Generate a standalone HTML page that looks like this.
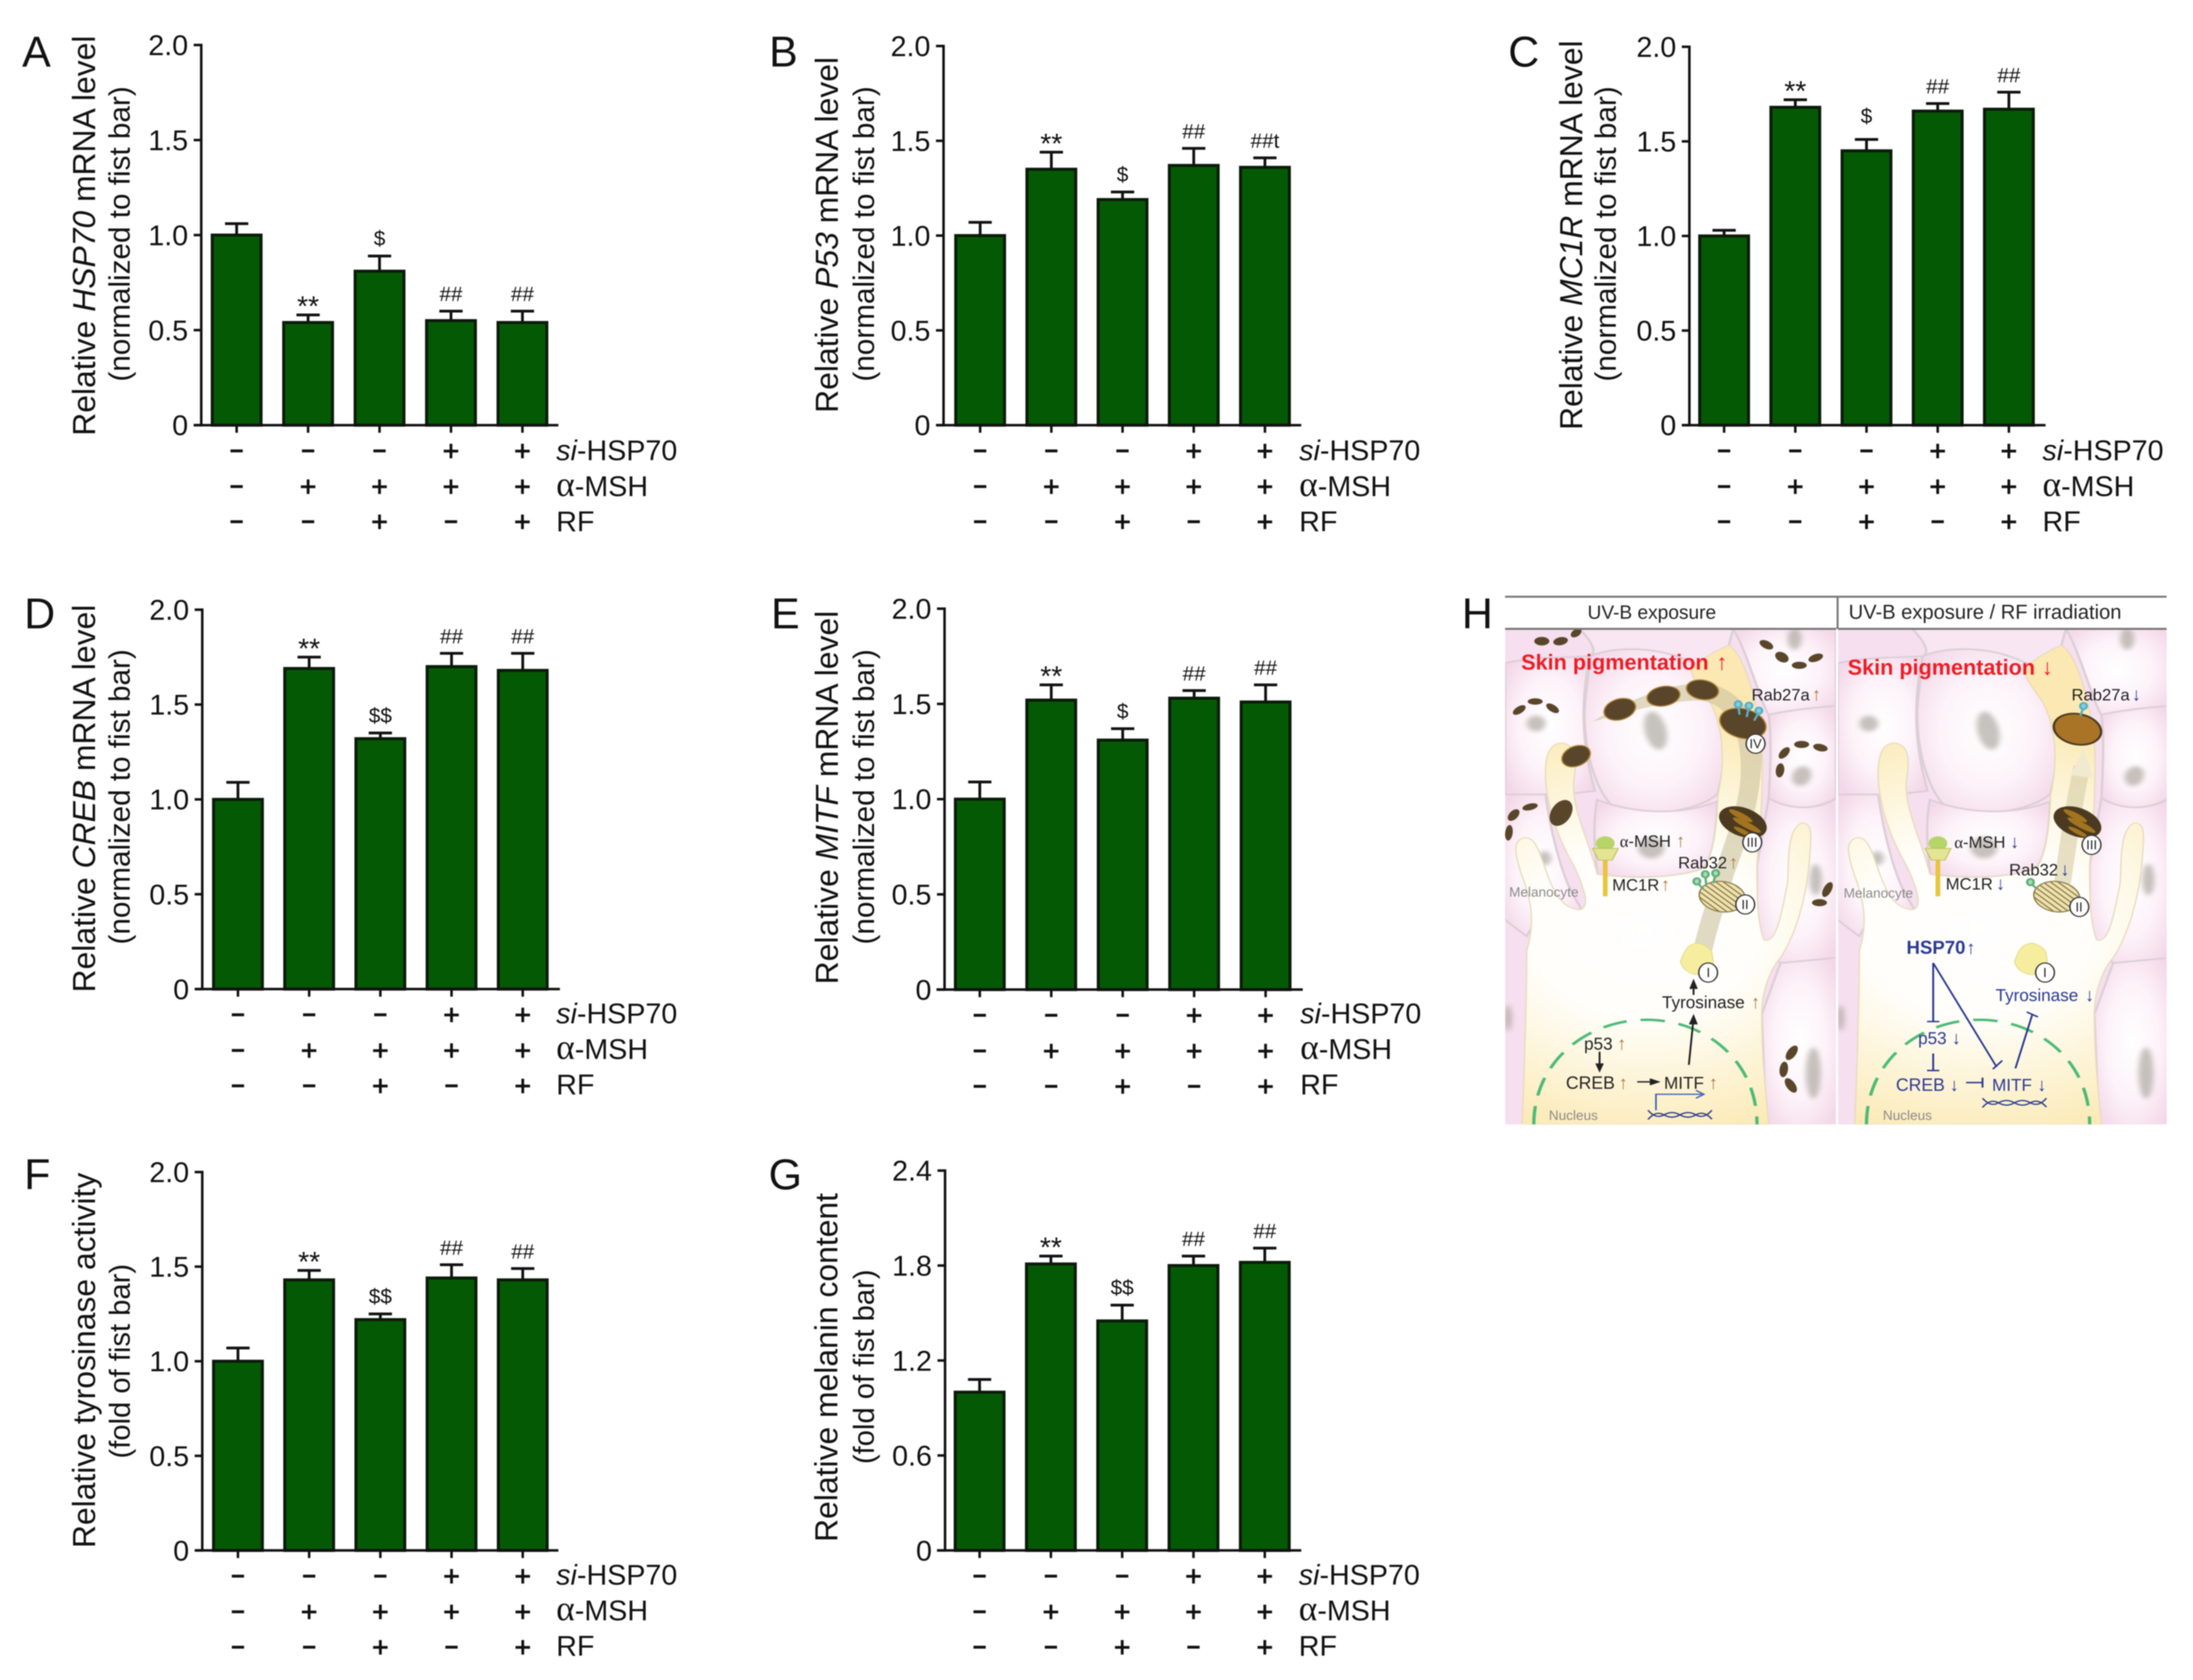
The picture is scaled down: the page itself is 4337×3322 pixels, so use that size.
<!DOCTYPE html>
<html lang="en">
<head>
<meta charset="utf-8">
<title>HSP70 knockdown and RF irradiation figure</title>
<style>
html,body{margin:0;padding:0;background:#fff;}
body{width:4337px;height:3322px;overflow:hidden;}
#figure{display:block;filter:blur(1px);}
text{font-family:"Liberation Sans",Arial,sans-serif;fill:#111;}
.letter{font-size:85px;}
.t1{font-size:63px;text-anchor:middle;}
.t2{font-size:58.7px;text-anchor:middle;}
.t3{font-size:57.7px;text-anchor:middle;}
.row{font-size:56.7px;}
.alpha{font-family:"Liberation Serif",serif;}
.row .alpha{font-size:70px;}
.hd{font-size:38px;fill:#222;}
.lab{font-size:33px;fill:#222;}
.blue{font-size:34px;fill:#2b3a96;}
.gray{font-size:27px;fill:#8b8b8b;}
.red{font-size:43px;font-weight:bold;fill:#ee1c25;}
.num{font-size:26px;text-anchor:middle;fill:#222;}
.ar{font-size:36px;text-anchor:middle;fill:#a9783f;}
.arb{font-size:36px;text-anchor:middle;fill:#2b3a96;}
.arr{font-size:44px;text-anchor:middle;fill:#ee1c25;}
</style>
</head>
<body>
<svg id="figure" xmlns="http://www.w3.org/2000/svg" width="4337" height="3322" viewBox="0 0 4337 3322">
<defs>
  <radialGradient id="cellGrad" cx="50%" cy="50%" r="62%">
    <stop offset="0" stop-color="#ffffff"/><stop offset=".55" stop-color="#fdf3f9"/><stop offset="1" stop-color="#f4d8e9"/>
  </radialGradient>
  <radialGradient id="melGrad" gradientUnits="userSpaceOnUse" cx="400" cy="980" r="620">
    <stop offset="0" stop-color="#ffffff"/><stop offset=".4" stop-color="#fffefa"/><stop offset=".8" stop-color="#fdf1cb"/><stop offset="1" stop-color="#fce8b2"/>
  </radialGradient>
  <filter id="soft" x="-40%" y="-40%" width="180%" height="180%"><feGaussianBlur stdDeviation="6"/></filter>
  <pattern id="stripes" patternUnits="userSpaceOnUse" width="12" height="11" patternTransform="rotate(22)">
    <rect width="12" height="11" fill="#eee2b0"/><rect y="0" width="12" height="3" fill="#8a7a44"/>
  </pattern>
  <clipPath id="clipPanel"><rect x="104" y="135" width="704" height="1395"/></clipPath>
  <clipPath id="clipAll"><rect x="104" y="135" width="1408" height="1395"/></clipPath>

  <g id="tissue" clip-path="url(#clipPanel)">
    <rect x="104" y="135" width="704" height="1395" fill="#f6dfee"/>
    <g fill="url(#cellGrad)" stroke="#dccfd6" stroke-width="5">
      <path d="M285,210 C350,175 480,180 560,280 C575,380 575,520 555,600 C510,650 400,665 340,640 C295,600 265,450 275,330 Z"/>
      <path d="M104,230 C170,210 250,215 285,210 C265,330 265,450 295,590 C230,600 160,610 104,600 Z"/>
      <path d="M590,135 C620,200 650,350 665,375 C720,360 770,355 808,350 L808,125 L590,125 Z"/>
      <path d="M665,375 C720,360 770,355 808,350 L808,610 C760,650 700,640 665,610 C670,500 670,430 665,375 Z"/>
      <path d="M100,600 L190,600 C200,700 220,800 240,860 C260,920 280,925 250,940 C200,950 170,940 150,1000 L100,950 Z"/>
      <path d="M300,615 C400,665 500,650 555,620 C555,700 545,780 525,810 C470,835 380,840 300,825 C295,760 290,680 300,615 Z"/>
      <path d="M665,610 C700,640 760,650 812,610 L812,1060 C770,1070 720,1070 690,1075 L640,1010 L640,800 Z"/>
      <path d="M690,1075 L812,1060 L812,1535 L660,1535 L650,1220 Z"/>
      <path d="M260,130 C290,170 300,200 285,210 C350,175 480,180 560,280 L590,130 Z" fill="#f8e6f2"/>
    </g>
    <g fill="#9d978e" opacity=".58" filter="url(#soft)">
      <ellipse cx="170" cy="400" rx="20" ry="22"/>
      <ellipse cx="424" cy="420" rx="23" ry="54" transform="rotate(-10 424 420)"/>
      <ellipse cx="415" cy="750" rx="28" ry="30"/>
      <ellipse cx="735" cy="548" rx="20" ry="28" transform="rotate(15 735 548)"/>
      <ellipse cx="188" cy="780" rx="14" ry="20"/>
      <ellipse cx="765" cy="840" rx="13" ry="44"/>
      <ellipse cx="720" cy="162" rx="15" ry="30"/>
      <ellipse cx="760" cy="1385" rx="16" ry="72"/>
      <ellipse cx="110" cy="1230" rx="8" ry="36"/>
    </g>
    <path d="M140,1530 C145,1380 150,1150 150,1040 C168,960 160,900 140,830 C125,770 118,730 145,722 C170,718 178,770 195,830 C210,880 225,920 262,925 C285,920 275,870 250,800 C215,720 195,640 190,560 C188,500 195,455 225,455 C255,460 258,500 250,560 C245,640 280,720 300,825 C380,840 470,835 525,810 C545,780 555,700 557,600 C575,500 565,400 540,340 C520,300 500,270 500,245 C530,210 560,190 580,180 C610,200 640,330 650,450 C655,600 645,700 640,800 C640,880 640,960 655,1010 C680,1020 690,950 705,850 C708,770 705,700 735,680 C760,680 755,720 752,780 C745,900 720,1000 690,1060 C670,1090 650,1150 650,1220 C650,1350 660,1450 665,1530 Z" fill="url(#melGrad)" stroke="#e8dcc0" stroke-width="3"/>
    <path d="M165,1530 C165,1350 280,1235 405,1235 C530,1235 640,1350 640,1530" fill="none" stroke="#4dba77" stroke-width="7" stroke-dasharray="52 30"/>
    <g>
      <rect x="312" y="775" width="10" height="112" fill="#e9c53c"/>
      <circle cx="317" cy="738" r="20" fill="#b6d568"/>
      <path d="M290,752 L345,752 L332,785 L303,785 Z" fill="#e3e592" stroke="#b7bb5c" stroke-width="2"/>
    </g>
  </g>

  <g id="stage-two">
    <ellipse cx="0" cy="0" rx="50" ry="42" transform="rotate(22)" fill="url(#stripes)" stroke="#8a7a44" stroke-width="3"/>
  </g>
  <g id="stage-three">
    <ellipse cx="0" cy="0" rx="56" ry="38" transform="rotate(35)" fill="#4b3a20"/>
    <ellipse cx="-14" cy="-12" rx="30" ry="8" transform="rotate(35)" fill="#a3741f"/>
    <ellipse cx="12" cy="2" rx="36" ry="8" transform="rotate(35)" fill="#a3741f"/>
    <ellipse cx="16" cy="22" rx="24" ry="6" transform="rotate(35)" fill="#a3741f"/>
  </g>
  <g id="tyrosinase-blob">
    <path d="M-38,5 C-30,-20 -25,-45 0,-46 C20,-40 30,-25 30,-10 C35,15 28,30 10,40 C-10,50 -35,30 -38,5 Z" fill="#f6ee9e" stroke="#e3d986" stroke-width="2"/>
  </g>
</defs>

<!-- Panel text written inline -->
<text class="letter" x="43.8" y="131.3">A</text>
<text class="letter" x="1521" y="131.3">B</text>
<text class="letter" x="2982.8" y="131.3">C</text>
<text class="letter" x="47.8" y="1242.4">D</text>
<text class="letter" x="1524.8" y="1242.4">E</text>
<text class="letter" x="47.8" y="2351.4">F</text>
<text class="letter" x="1520" y="2351.5">G</text>
<text class="letter" x="2891" y="1242.5">H</text>

<text class="t1" transform="translate(188,466) rotate(-90)">Relative <tspan font-style="italic">HSP70</tspan> mRNA level</text>
<text class="t2" transform="translate(256.7,462.6) rotate(-90)">(normalized to fist bar)</text>
<text class="t1" transform="translate(1657,464.5) rotate(-90)">Relative <tspan font-style="italic">P53</tspan> mRNA level</text>
<text class="t2" transform="translate(1728.7,462.6) rotate(-90)">(normalized to fist bar)</text>
<text class="t1" transform="translate(3129,465) rotate(-90)">Relative <tspan font-style="italic">MC1R</tspan> mRNA level</text>
<text class="t2" transform="translate(3195.7,462.6) rotate(-90)">(normalized to fist bar)</text>
<text class="t1" transform="translate(188,1579) rotate(-90)">Relative <tspan font-style="italic">CREB</tspan> mRNA level</text>
<text class="t2" transform="translate(256.7,1575.7) rotate(-90)">(normalized to fist bar)</text>
<text class="t1" transform="translate(1657,1577) rotate(-90)">Relative <tspan font-style="italic">MITF</tspan> mRNA level</text>
<text class="t2" transform="translate(1728.7,1575.7) rotate(-90)">(normalized to fist bar)</text>
<text class="t1" transform="translate(188,2690) rotate(-90)">Relative tyrosinase activity</text>
<text class="t3" transform="translate(256.7,2691.6) rotate(-90)">(fold of fist bar)</text>
<text class="t1" transform="translate(1656,2704) rotate(-90)">Relative melanin content</text>
<text class="t3" transform="translate(1727.8,2702.7) rotate(-90)">(fold of fist bar)</text>

<g>
<text class="row" x="1100" y="910"><tspan font-style="italic">si</tspan>-HSP70</text><text class="row" x="1100" y="981"><tspan class="alpha">α</tspan>-MSH</text><text class="row" x="1100" y="1050.6">RF</text>
</g>
<g>
<text class="row" x="2569.4" y="910"><tspan font-style="italic">si</tspan>-HSP70</text><text class="row" x="2569.4" y="981"><tspan class="alpha">α</tspan>-MSH</text><text class="row" x="2569.4" y="1050.6">RF</text>
</g>
<g>
<text class="row" x="4039.4" y="910"><tspan font-style="italic">si</tspan>-HSP70</text><text class="row" x="4039.4" y="981"><tspan class="alpha">α</tspan>-MSH</text><text class="row" x="4039.4" y="1050.6">RF</text>
</g>
<g>
<text class="row" x="1100" y="2023.4"><tspan font-style="italic">si</tspan>-HSP70</text><text class="row" x="1100" y="2094"><tspan class="alpha">α</tspan>-MSH</text><text class="row" x="1100" y="2164">RF</text>
</g>
<g>
<text class="row" x="2571.4" y="2023.4"><tspan font-style="italic">si</tspan>-HSP70</text><text class="row" x="2571.4" y="2094"><tspan class="alpha">α</tspan>-MSH</text><text class="row" x="2571.4" y="2164">RF</text>
</g>
<g>
<text class="row" x="1100" y="3133.4"><tspan font-style="italic">si</tspan>-HSP70</text><text class="row" x="1100" y="3204"><tspan class="alpha">α</tspan>-MSH</text><text class="row" x="1100" y="3274">RF</text>
</g>
<g>
<text class="row" x="2568.5" y="3133.4"><tspan font-style="italic">si</tspan>-HSP70</text><text class="row" x="2568.5" y="3204"><tspan class="alpha">α</tspan>-MSH</text><text class="row" x="2568.5" y="3274">RF</text>
</g>

<g id="charts" transform="translate(2 2)"></g>

<!-- Panel H illustration -->
<g transform="translate(2880 1150) scale(.9949) translate(-2880 -1150)">
  <g transform="translate(2880 1150) scale(.934 .7052)">
    <g clip-path="url(#clipAll)">
      <use href="#tissue"/>
      <use href="#tissue" transform="translate(708 0)"/>
    </g>
    <!-- transport bands -->
    <path d="M290,395 C380,320 470,285 530,285 C600,300 650,380 650,500 C645,640 620,720 590,830 C570,920 555,980 545,1040 L505,1030 C520,950 540,870 560,780 C585,680 610,600 605,500 C600,400 570,345 520,335 C460,335 380,360 290,395 Z" fill="#cfc6a4" opacity=".65"/>
    <path d="M1290,850 C1300,760 1312,640 1332,520" fill="none" stroke="#d8cfa9" stroke-width="36" opacity=".65"/>
    <path d="M1308,545 L1335,470 L1356,555 Z" fill="#f1ead0"/>
    <!-- small melanin granules -->
    <g fill="#59452a">
      <ellipse cx="182" cy="168" rx="16" ry="12"/><ellipse cx="222" cy="168" rx="16" ry="11" transform="rotate(-20 222 168)"/><ellipse cx="255" cy="145" rx="14" ry="9" transform="rotate(-50 255 145)"/>
      <ellipse cx="660" cy="178" rx="17" ry="10" transform="rotate(40 660 178)"/><ellipse cx="693" cy="213" rx="17" ry="12" transform="rotate(50 693 213)"/><ellipse cx="730" cy="236" rx="16" ry="10"/><ellipse cx="765" cy="215" rx="17" ry="10" transform="rotate(-30 765 215)"/>
      <ellipse cx="134" cy="362" rx="17" ry="9" transform="rotate(-45 134 362)"/><ellipse cx="168" cy="338" rx="16" ry="9"/><ellipse cx="205" cy="357" rx="17" ry="9" transform="rotate(45 205 357)"/>
      <ellipse cx="698" cy="483" rx="18" ry="9" transform="rotate(-60 698 483)"/><ellipse cx="735" cy="459" rx="16" ry="10"/><ellipse cx="775" cy="468" rx="16" ry="10" transform="rotate(20 775 468)"/><ellipse cx="689" cy="532" rx="20" ry="9" transform="rotate(-85 689 532)"/>
      <ellipse cx="122" cy="658" rx="18" ry="10" transform="rotate(-60 122 658)"/><ellipse cx="157" cy="635" rx="17" ry="9" transform="rotate(-20 157 635)"/><ellipse cx="112" cy="708" rx="22" ry="8" transform="rotate(-85 112 708)"/>
      <ellipse cx="790" cy="868" rx="22" ry="9" transform="rotate(-70 790 868)"/><ellipse cx="773" cy="905" rx="16" ry="10"/>
      <ellipse cx="714" cy="1328" rx="22" ry="10" transform="rotate(-65 714 1328)"/><ellipse cx="697" cy="1375" rx="22" ry="9" transform="rotate(-85 697 1375)"/><ellipse cx="712" cy="1420" rx="22" ry="10" transform="rotate(65 712 1420)"/>
    </g>
    <!-- left melanosomes -->
    <g fill="#59452a" stroke="#b78a3c" stroke-width="3">
      <ellipse cx="348" cy="360" rx="36" ry="28" transform="rotate(-35 348 360)"/>
      <ellipse cx="441" cy="323" rx="36" ry="27" transform="rotate(-20 441 323)"/>
      <ellipse cx="524" cy="305" rx="35" ry="27" transform="rotate(20 524 305)"/>
      <ellipse cx="610" cy="400" rx="52" ry="40" transform="rotate(30 610 400)"/>
      <ellipse cx="255" cy="492" rx="34" ry="26" transform="rotate(-45 255 492)"/>
    </g>
    <ellipse cx="223" cy="652" rx="38" ry="22" transform="rotate(-70 223 652)" fill="#59452a"/>
    <use href="#stage-three" transform="translate(610 678)"/>
    <use href="#stage-two" transform="translate(566 888)"/>
    <use href="#tyrosinase-blob" transform="translate(515 1065)"/>
    <!-- right melanosomes -->
    <ellipse cx="1322" cy="416" rx="52" ry="42" transform="rotate(25 1322 416)" fill="#a97426" stroke="#4b3a20" stroke-width="5"/>
    <use href="#stage-three" transform="translate(1322 678)"/>
    <use href="#stage-two" transform="translate(1278 888)"/>
    <use href="#tyrosinase-blob" transform="translate(1226 1065)"/>
    <!-- Rab lollipops -->
    <g stroke="#5aaec4" stroke-width="5" fill="#7fd0e0">
      <path d="M600,350 L603,375" fill="none"/><ellipse cx="600" cy="346" rx="7" ry="9"/>
      <path d="M623,352 L618,382" fill="none"/><ellipse cx="623" cy="350" rx="7" ry="9"/>
      <path d="M644,368 L634,392" fill="none"/><ellipse cx="644" cy="364" rx="7" ry="9"/>
      <path d="M1335,355 L1328,378" fill="none"/><ellipse cx="1335" cy="351" rx="7" ry="9"/>
    </g>
    <g stroke="#5cae78" stroke-width="5" fill="#a6dcb5">
      <path d="M512,848 L525,865" fill="none"/><ellipse cx="512" cy="845" rx="7" ry="9"/>
      <path d="M530,828 L532,855" fill="none"/><ellipse cx="530" cy="825" rx="7" ry="9"/>
      <path d="M552,825 L547,850" fill="none"/><ellipse cx="552" cy="822" rx="7" ry="9"/>
      <path d="M1222,850 L1236,866" fill="none"/><ellipse cx="1222" cy="847" rx="7" ry="9"/>
    </g>
    <!-- stage circles -->
    <g fill="#fff" stroke="#333" stroke-width="3">
      <ellipse cx="637" cy="457" rx="20" ry="27"/><ellipse cx="630" cy="735" rx="20" ry="27"/><ellipse cx="615" cy="910" rx="20" ry="27"/><ellipse cx="536" cy="1102" rx="20" ry="27"/>
      <ellipse cx="1352" cy="742" rx="20" ry="27"/><ellipse cx="1326" cy="917" rx="20" ry="27"/><ellipse cx="1253" cy="1102" rx="20" ry="27"/>
    </g>
    <!-- left arrows -->
    <g fill="none" stroke="#222" stroke-width="4">
      <path d="M305,1325 L305,1375"/><path d="M298,1358 L305,1378 L312,1358" fill="#222"/>
      <path d="M385,1410 L425,1410"/><path d="M412,1402 L430,1410 L412,1418" fill="#222"/>
      <path d="M495,1362 L505,1230"/><path d="M497,1248 L505,1225 L512,1248" fill="#222"/>
      <path d="M505,1165 L505,1130"/><path d="M498,1148 L505,1126 L512,1148" fill="#222"/>
    </g>
    <path d="M425,1490 L425,1445 L522,1445 M510,1434 L527,1445 L510,1456" fill="none" stroke="#3b5fb5" stroke-width="3.5"/>
    <g fill="none" stroke="#2f3f8f" stroke-width="3.5">
      <path d="M408,1490 Q425,1516 442,1503 T476,1503 T510,1503 T544,1515"/><path d="M408,1516 Q425,1490 442,1503 T476,1503 T510,1503 T544,1490"/>
      <path d="M1120,1456 Q1137,1482 1154,1469 T1188,1469 T1222,1469 T1256,1481"/><path d="M1120,1482 Q1137,1456 1154,1469 T1188,1469 T1222,1469 T1256,1456"/>
    </g>
    <!-- blue inhibitors -->
    <g fill="none" stroke="#27398f" stroke-width="4">
      <path d="M1015,1075 L1015,1240 M1002,1240 L1028,1240"/>
      <path d="M1015,1075 L1150,1368 M1142,1374 L1162,1350"/>
      <path d="M1015,1330 L1015,1378 M1002,1378 L1028,1378"/>
      <path d="M1085,1412 L1120,1412 M1120,1398 L1120,1426"/>
      <path d="M1190,1372 L1226,1220 M1214,1213 L1238,1227"/>
    </g>
  </g>
  <!-- header rules -->
  <g stroke="#777" stroke-width="4">
    <path d="M2977,1180 L4292,1180"/><path d="M2977,1244 L4292,1244"/><path d="M3638,1180 L3638,1244"/>
  </g>
  <rect x="3635" y="1244" width="4" height="985" fill="#fff"/>

  <text class="hd" x="3141" y="1224">UV-B exposure</text>
  <text class="hd" x="3660" y="1224" style="font-size:40px">UV-B exposure / RF irradiation</text>

  <text class="red" x="3009" y="1325">Skin pigmentation</text><text class="arr" x="3408" y="1325">↑</text>
  <text class="lab" x="3467" y="1386">Rab27a</text><text class="ar" x="3596" y="1386">↑</text>
  <text class="lab" x="3205" y="1677"><tspan class="alpha">α</tspan>-MSH</text><text class="ar" x="3326" y="1677">↑</text>
  <text class="lab" x="3190" y="1764">MC1R</text><text class="ar" x="3296" y="1764">↑</text>
  <text class="lab" x="3321" y="1720">Rab32</text><text class="ar" x="3431" y="1720">↑</text>
  <text class="gray" x="2985" y="1776">Melanocyte</text>
  <text class="lab" x="3289" y="1998" style="font-size:34px">Tyrosinase</text><text class="ar" x="3475" y="1998">↑</text>
  <text class="lab" x="3134" y="2080" style="font-size:34px">p53</text><text class="ar" x="3209" y="2080">↑</text>
  <text class="lab" x="3098" y="2158" style="font-size:35px">CREB</text><text class="ar" x="3212" y="2158">↑</text>
  <text class="lab" x="3293" y="2158" style="font-size:34px">MITF</text><text class="ar" x="3391" y="2158">↑</text>
  <text class="gray" x="3064" y="2220">Nucleus</text>

  <text class="red" x="3658" y="1335">Skin pigmentation</text><text class="arr" x="4055" y="1335">↓</text>
  <text class="lab" x="4103" y="1386">Rab27a</text><text class="arb" x="4232" y="1386">↓</text>
  <text class="lab" x="3870" y="1679"><tspan class="alpha">α</tspan>-MSH</text><text class="arb" x="3990" y="1679">↓</text>
  <text class="lab" x="3853" y="1762">MC1R</text><text class="arb" x="3962" y="1762">↓</text>
  <text class="lab" x="3979" y="1734">Rab32</text><text class="arb" x="4090" y="1734">↓</text>
  <text class="gray" x="3650" y="1778">Melanocyte</text>
  <text class="blue" x="3775" y="1890" style="font-size:37px;font-weight:bold">HSP70</text><text class="arb" x="3903" y="1890">↑</text>
  <text class="blue" x="3952" y="1984">Tyrosinase</text><text class="arb" x="4139" y="1984">↓</text>
  <text class="blue" x="3798" y="2069">p53</text><text class="arb" x="3874" y="2069">↓</text>
  <text class="blue" x="3754" y="2162" style="font-size:35px">CREB</text><text class="arb" x="3870" y="2162">↓</text>
  <text class="blue" x="3945" y="2162">MITF</text><text class="arb" x="4044" y="2162">↓</text>
  <text class="gray" x="3728" y="2220">Nucleus</text>

  <text class="num" x="3475" y="1481">IV</text><text class="num" x="3468" y="1677">III</text><text class="num" x="3454" y="1801">II</text><text class="num" x="3381" y="1936">I</text>
  <text class="num" x="4143" y="1682">III</text><text class="num" x="4118" y="1806">II</text><text class="num" x="4050" y="1936">I</text>
</g>
</svg>

<script>
// ---- chart data ----
const categories = ['control', 'a-msh', 'a-msh-rf', 'si-a-msh', 'si-a-msh-rf'];
const rowSiHsp70 = ['–', '–', '–', '+', '+'];
const rowAlphaMsh = ['–', '+', '+', '+', '+'];
const rowRf = ['–', '–', '+', '–', '+'];

const ticksUnit = ['0', '0.5', '1.0', '1.5', '2.0'];
const ticksMelanin = ['0', '0.6', '1.2', '1.8', '2.4'];

const hsp70Values = [1.0, 0.54, 0.81, 0.55, 0.54];
const hsp70Errors = [0.06, 0.04, 0.08, 0.05, 0.06];
const hsp70Sig = ['', '**', '$', '##', '##'];

const p53Values = [1.0, 1.35, 1.19, 1.37, 1.36];
const p53Errors = [0.07, 0.09, 0.04, 0.09, 0.05];
const p53Sig = ['', '**', '$', '##', '##t'];

const mc1rValues = [1.0, 1.68, 1.45, 1.66, 1.67];
const mc1rErrors = [0.03, 0.04, 0.06, 0.04, 0.09];
const mc1rSig = ['', '**', '$', '##', '##'];

const crebValues = [1.0, 1.69, 1.32, 1.70, 1.68];
const crebErrors = [0.09, 0.06, 0.03, 0.07, 0.09];
const crebSig = ['', '**', '$$', '##', '##'];

const mitfValues = [1.0, 1.52, 1.31, 1.53, 1.51];
const mitfErrors = [0.09, 0.08, 0.06, 0.04, 0.09];
const mitfSig = ['', '**', '$', '##', '##'];

const tyrosinaseValues = [1.0, 1.43, 1.22, 1.44, 1.43];
const tyrosinaseErrors = [0.07, 0.05, 0.03, 0.07, 0.06];
const tyrosinaseSig = ['', '**', '$$', '##', '##'];

const melaninValues = [1.0, 1.81, 1.45, 1.80, 1.82];
const melaninErrors = [0.08, 0.05, 0.10, 0.06, 0.09];
const melaninSig = ['', '**', '$$', '##', '##'];

// ---- drawing ----
const SVGNS = 'http://www.w3.org/2000/svg';
const root = document.getElementById('charts');

function node(tag, parent, attrs) {
  const el = document.createElementNS(SVGNS, tag);
  for (const k in attrs) el.setAttribute(k, attrs[k]);
  parent.appendChild(el);
  return el;
}

function drawPanel(id, frame, values, errors, sig, ticks) {
  const group = node('g', root, {});
  
  

  const yMax = parseFloat(ticks[ticks.length - 1]);
  const yScale = function (v) { return frame.y0 - (v / yMax) * (frame.y0 - frame.yTop); };
  const xScale = function (i) { return frame.first + i * frame.step; };
  const barW = 96.5;

  values.forEach(function (v, i) {
    const cx = xScale(i);
    const top = yScale(v);
    const errTop = yScale(v + errors[i]);

    const whisker = node('path', group, {
      d: 'M' + cx + ',' + top + ' L' + cx + ',' + errTop + ' M' + (cx - 23) + ',' + errTop + ' L' + (cx + 23) + ',' + errTop,
      fill: 'none', stroke: '#111', 'stroke-width': 5.5
    });
    
    

    const bar = node('rect', group, {
      x: cx - barW / 2, y: top, width: barW, height: frame.y0 - top,
      fill: '#045a04', stroke: '#0b1a0b', 'stroke-width': 6
    });
    
    

    const tick = node('line', group, { x1: cx, x2: cx, y1: frame.y0, y2: frame.y0 + 15, stroke: '#111', 'stroke-width': 5 });
    
    

    if (sig[i]) {
      const isStar = sig[i] === '**';
      const isDollar = sig[i].charAt(0) === '$';
      const lift = isDollar && frame.dollarLift ? frame.dollarLift : 0;
      const mark = node('text', group, {
        x: cx, y: errTop + (isStar ? 2 : isDollar ? -21 : -20) - lift,
        'text-anchor': 'middle', 'font-size': isStar ? 56 : 41
      });
      mark.textContent = sig[i];
      
      
    }

    [rowSiHsp70, rowAlphaMsh, rowRf].forEach(function (row, r) {
      const plus = row[i] === '+';
      const sym = node('text', group, {
        x: cx, y: frame.y0 + [50.7, 121.4, 191][r] + (plus ? 19 : 13),
        'text-anchor': 'middle', 'font-size': plus ? 56 : 47, 'font-weight': plus ? 'normal' : 'bold',
        stroke: '#111', 'stroke-width': plus ? 1.5 : 1
      });
      sym.textContent = row[i];
      
      
    });
  });

  const yAxis = node('line', group, { x1: frame.axisX, x2: frame.axisX, y1: frame.yTop - 2.5, y2: frame.y0 + 2.5, stroke: '#111', 'stroke-width': 5 });
  
  

  const xAxis = node('line', group, { x1: frame.lineStart, x2: frame.lineEnd, y1: frame.y0, y2: frame.y0, stroke: '#111', 'stroke-width': 5 });
  
  

  ticks.forEach(function (label) {
    const ty = yScale(parseFloat(label));
    const tk = node('line', group, { x1: frame.axisX - 15, x2: frame.axisX, y1: ty, y2: ty, stroke: '#111', 'stroke-width': 5 });
    
    
    const tl = node('text', group, { x: frame.axisX - 26, y: ty + 20, 'text-anchor': 'end', 'font-size': 56.7 });
    tl.textContent = label;
    
    
  });
}

drawPanel('a', { axisX: 396, y0: 838.7, yTop: 87, first: 466, step: 141.3, lineStart: 381, lineEnd: 1102.3 }, hsp70Values, hsp70Errors, hsp70Sig, ticksUnit);
drawPanel('b', { axisX: 1864, y0: 838.7, yTop: 89, first: 1936.4, step: 140.8, lineStart: 1851, lineEnd: 2571.4 }, p53Values, p53Errors, p53Sig, ticksUnit);
drawPanel('c', { axisX: 3339, y0: 838.7, yTop: 90.5, first: 3407.7, step: 140.8, lineStart: 3325, lineEnd: 4043.4, dollarLift: 12 }, mc1rValues, mc1rErrors, mc1rSig, ticksUnit);
drawPanel('d', { axisX: 398, y0: 1953.8, yTop: 1203.6, first: 468.6, step: 140.8, lineStart: 385, lineEnd: 1105.3 }, crebValues, crebErrors, crebSig, ticksUnit);
drawPanel('e', { axisX: 1866, y0: 1954.8, yTop: 1201.6, first: 1935.7, step: 141.3, lineStart: 1850, lineEnd: 2574.4 }, mitfValues, mitfErrors, mitfSig, ticksUnit);
drawPanel('f', { axisX: 398, y0: 3063.8, yTop: 2315.6, first: 468.6, step: 140.8, lineStart: 385, lineEnd: 1102.3 }, tyrosinaseValues, tyrosinaseErrors, tyrosinaseSig, ticksUnit);
drawPanel('g', { axisX: 1867, y0: 3063.8, yTop: 2312.7, first: 1935.3, step: 141, lineStart: 1851, lineEnd: 2571.5 }, melaninValues, melaninErrors, melaninSig, ticksMelanin);
</script>
</body>
</html>
